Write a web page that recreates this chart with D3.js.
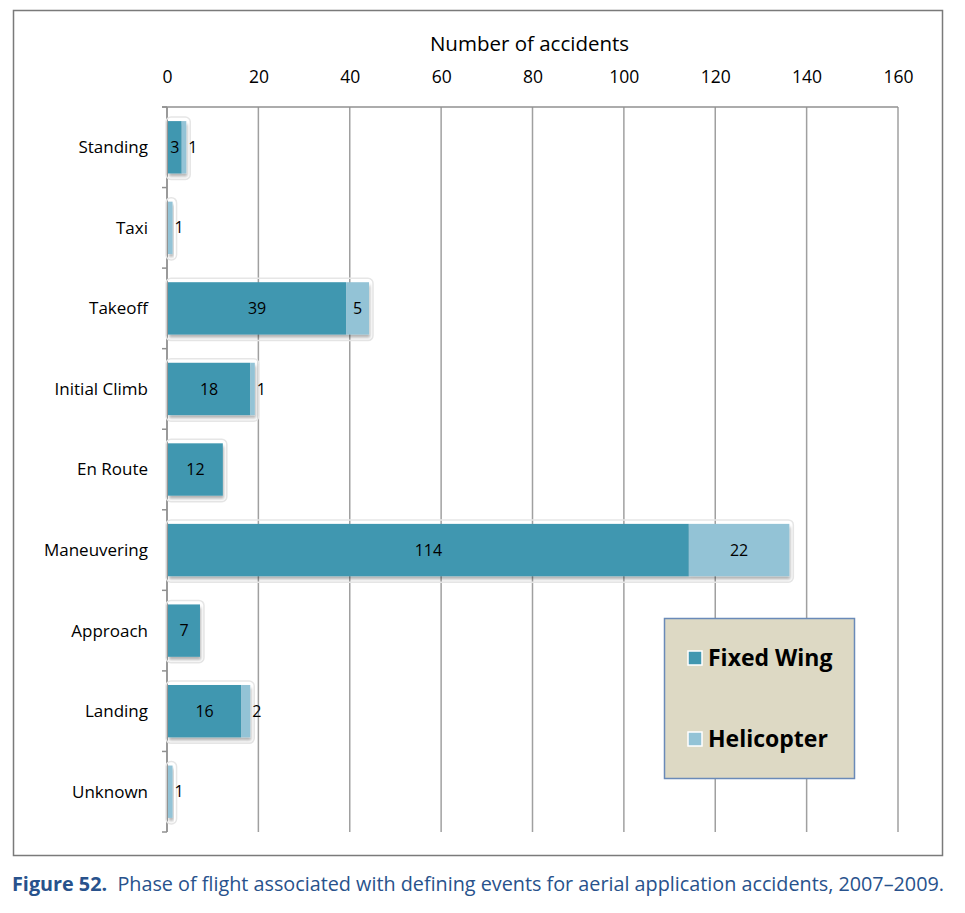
<!DOCTYPE html>
<html>
<head>
<meta charset="utf-8">
<script src="https://cdn.jsdelivr.net/npm/d3@7"></script>
<style>
  body { margin: 0; background: #fff; }
  text { font-family: "Open Sans", "Liberation Sans", sans-serif; }
</style>
</head>
<body>
<div id="chart"></div>
<script>
var phases = ["Standing", "Taxi", "Takeoff", "Initial Climb", "En Route",
  "Maneuvering", "Approach", "Landing", "Unknown"];
var fixedWing = [3, 0, 39, 18, 12, 114, 7, 16, 0];
var helicopter = [1, 1, 5, 1, 0, 22, 0, 2, 1];
var xTicks = [0, 20, 40, 60, 80, 100, 120, 140, 160];
var seriesNames = ["Fixed Wing", "Helicopter"];
var seriesColors = ["#4197b0", "#93c3d6"];

var W = 965, H = 913;
var plotL = 167, plotR = 898, plotT = 107, plotB = 832;

var svg = d3.select("#chart").append("svg")
  .attr("width", W)
  .attr("height", H);

var defs = svg.append("defs");
var f = defs.append("filter").attr("id", "shadow")
  .attr("x", "-20%").attr("y", "-30%").attr("width", "140%").attr("height", "170%");
f.append("feDropShadow").attr("dx", 1).attr("dy", 3).attr("stdDeviation", 1.6)
  .attr("flood-color", "#000").attr("flood-opacity", 0.3);

// outer frame
svg.append("rect")
  .attr("x", 13.5).attr("y", 10.5)
  .attr("width", 929).attr("height", 845)
  .attr("fill", "none")
  .attr("stroke", "#7a7a7a")
  .attr("stroke-width", 1.5);

var x = d3.scaleLinear().domain([0, 160]).range([plotL, plotR]);
var y = d3.scaleBand().domain(phases).range([plotT, plotB]).paddingInner(0.35).paddingOuter(0.175);

// gridlines
svg.append("g").selectAll("line")
  .data(xTicks)
  .enter()
  .append("line")
  .attr("x1", function(d) { return x(d); })
  .attr("x2", function(d) { return x(d); })
  .attr("y1", plotT)
  .attr("y2", plotB)
  .attr("stroke", "#a0a0a0")
  .attr("stroke-width", 1.5);

// top axis
var xAxis = svg.append("g")
  .attr("transform", "translate(0," + plotT + ")")
  .call(d3.axisTop(x).tickValues(xTicks).tickSize(0).tickPadding(24));
xAxis.select(".domain").attr("stroke", "#909090").attr("stroke-width", 1.5)
  .attr("d", "M" + (plotL - 5) + ",0H" + plotR);
xAxis.selectAll("text").attr("font-size", 17.5).attr("fill", "#000")
  .attr("font-family", "Open Sans, sans-serif");

svg.append("text")
  .attr("x", (plotL + plotR) / 2 - 3)
  .attr("y", 51)
  .attr("text-anchor", "middle")
  .attr("font-size", 20.5)
  .attr("fill", "#000")
  .text("Number of accidents");

// left axis
var step = (plotB - plotT) / phases.length;
var yAxis = svg.append("g").attr("transform", "translate(" + plotL + ",0)");
yAxis.append("line")
  .attr("x1", 0).attr("x2", 0)
  .attr("y1", plotT).attr("y2", plotB)
  .attr("stroke", "#909090").attr("stroke-width", 1.5);
yAxis.selectAll(".tk")
  .data(d3.range(phases.length + 1))
  .enter()
  .append("line")
  .attr("class", "tk")
  .attr("x1", -5).attr("x2", 0)
  .attr("y1", function(i) { return plotT + i * step; })
  .attr("y2", function(i) { return plotT + i * step; })
  .attr("stroke", "#909090").attr("stroke-width", 1.5);
yAxis.selectAll(".lbl")
  .data(phases)
  .enter()
  .append("text")
  .attr("class", "lbl")
  .attr("x", -19)
  .attr("y", function(d) { return y(d) + y.bandwidth() / 2; })
  .attr("dy", "0.35em")
  .attr("text-anchor", "end")
  .attr("font-size", 17)
  .attr("fill", "#000")
  .text(function(d) { return d; });

// bars
var rows = phases.map(function(p, i) {
  return { phase: p, fw: fixedWing[i], hc: helicopter[i] };
});
var barX0 = x(0) + 1;

var g = svg.append("g");
var row = g.selectAll(".row")
  .data(rows)
  .enter()
  .append("g")
  .attr("class", "row");

// light glow outline behind
row.append("rect")
  .attr("x", barX0 - 2)
  .attr("y", function(d) { return y(d.phase) - 4; })
  .attr("width", function(d) { return x(d.fw + d.hc) - x(0) + 6; })
  .attr("height", y.bandwidth() + 10)
  .attr("rx", 5)
  .attr("fill", "none")
  .attr("stroke", "#e6e6e6")
  .attr("stroke-width", 1.5);

var bars = row.append("g").attr("filter", "url(#shadow)");
bars.append("rect")
  .attr("x", barX0)
  .attr("y", function(d) { return y(d.phase); })
  .attr("width", function(d) { return Math.max(0, x(d.fw) - x(0)); })
  .attr("height", y.bandwidth())
  .attr("fill", seriesColors[0]);
bars.append("rect")
  .attr("x", function(d) { return barX0 + x(d.fw) - x(0); })
  .attr("y", function(d) { return y(d.phase); })
  .attr("width", function(d) { return Math.max(0, x(d.hc) - x(0)); })
  .attr("height", y.bandwidth())
  .attr("fill", seriesColors[1]);

// labels
row.filter(function(d) { return d.fw > 0; })
  .append("text")
  .attr("x", function(d) { return barX0 + (x(d.fw) - x(0)) / 2; })
  .attr("y", function(d) { return y(d.phase) + y.bandwidth() / 2; })
  .attr("dy", "0.35em")
  .attr("text-anchor", "middle")
  .attr("font-size", 16)
  .attr("fill", "#000")
  .text(function(d) { return d.fw; });

row.filter(function(d) { return d.hc > 0; })
  .append("text")
  .attr("x", function(d) {
    var w = x(d.hc) - x(0);
    var x0 = barX0 + x(d.fw) - x(0);
    return w > 12 ? x0 + w / 2 : x0 + w + 2;
  })
  .attr("y", function(d) { return y(d.phase) + y.bandwidth() / 2; })
  .attr("dy", "0.35em")
  .attr("text-anchor", function(d) { return (x(d.hc) - x(0)) > 12 ? "middle" : "start"; })
  .attr("font-size", 16)
  .attr("fill", "#000")
  .text(function(d) { return d.hc; });

// legend
var leg = svg.append("g").attr("transform", "translate(664,618)");
leg.append("rect")
  .attr("x", 0.5).attr("y", 0.5)
  .attr("width", 190).attr("height", 160)
  .attr("fill", "#ddd9c4")
  .attr("stroke", "#6a8ab8")
  .attr("stroke-width", 1.5);
var li = leg.selectAll(".li")
  .data(seriesNames)
  .enter()
  .append("g")
  .attr("class", "li")
  .attr("transform", function(d, i) { return "translate(0," + (40 + i * 81) + ")"; });
li.append("rect")
  .attr("x", 24).attr("y", -7)
  .attr("width", 14).attr("height", 14)
  .attr("fill", function(d, i) { return seriesColors[i]; })
  .attr("stroke", "#fff")
  .attr("stroke-width", 1.5);
li.append("text")
  .attr("x", 44)
  .attr("y", 0)
  .attr("dy", "0.35em")
  .attr("font-size", 23)
  .attr("font-weight", "bold")
  .attr("fill", "#000")
  .text(function(d) { return d; });

// caption
var cap = svg.append("text")
  .attr("x", 12)
  .attr("y", 891)
  .attr("font-size", 20)
  .attr("fill", "#28528c")
  .attr("textLength", 932)
  .attr("lengthAdjust", "spacingAndGlyphs");
cap.append("tspan").attr("font-weight", "bold").text("Figure 52.");
cap.append("tspan").text("\u00a0 Phase of flight associated with defining events for aerial application accidents, 2007\u20132009.");
</script>
</body>
</html>
